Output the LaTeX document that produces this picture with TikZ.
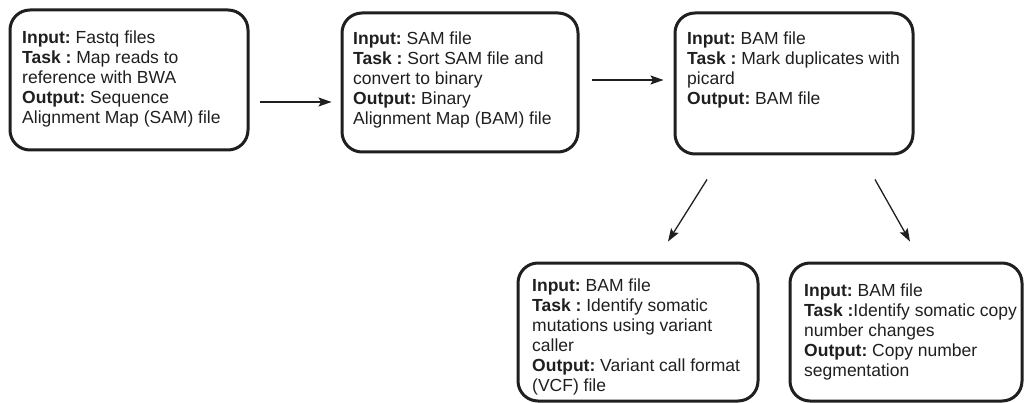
\documentclass[tikz,border=0pt]{standalone}
\usepackage{fontspec}
\setmainfont{Liberation Sans}
\usetikzlibrary{arrows.meta}
\frenchspacing
\begin{document}
\begin{tikzpicture}[x=1pt,y=-1pt,
  stagebox/.style={draw=black!88, line width=3pt, rounded corners=20pt, inner sep=0pt},
  stagetext/.style={anchor=north west, inner sep=0pt, align=left, text=black!88,
    font=\fontsize{17.5}{20}\selectfont\frenchspacing},
  flow/.style={line width=1.3pt, draw=black!88, -{Stealth[length=13pt,width=9pt,inset=2.5pt]}}]
\useasboundingbox (0,0) rectangle (1024,403);
% boxes
\node[stagebox, minimum width=238pt, minimum height=140pt] (b1) at (129,80) {};
\node[stagebox, minimum width=236pt, minimum height=139pt] (b2) at (460,82.5) {};
\node[stagebox, minimum width=238pt, minimum height=141pt] (b3) at (794,83.5) {};
\node[stagebox, minimum width=240pt, minimum height=138pt] (b4) at (638,332) {};
\node[stagebox, minimum width=232pt, minimum height=138pt] (b5) at (906,332) {};
% texts
\node[stagetext] (t1) at (22,31) {\textbf{Input:} Fastq files\\\textbf{Task :} Map reads to\\reference with BWA\\\textbf{Output:} Sequence\\Alignment Map (SAM) file};
\node[stagetext] (t2) at (353,32) {\textbf{Input:} SAM file\\\textbf{Task :} Sort SAM file and\\convert to binary\\\textbf{Output:} Binary\\Alignment Map (BAM) file};
\node[stagetext] (t3) at (687,32) {\textbf{Input:} BAM file\\\textbf{Task :} Mark duplicates with\\picard\\\textbf{Output:} BAM file};
\node[stagetext] (t4) at (532,279) {\textbf{Input:} BAM file\\\textbf{Task :} Identify somatic\\mutations using variant\\caller\\\textbf{Output:} Variant call format\\(VCF) file};
\node[stagetext] (t5) at (804,284) {\textbf{Input:} BAM file\\\textbf{Task :}Identify somatic copy\\number changes\\\textbf{Output:} Copy number\\segmentation};
% arrows
\draw[flow] ([shift={(10,22)}]b1.east) -- ([shift={(-9,19.5)}]b2.west);
\draw[flow] ([shift={(12,-2.5)}]b2.east) -- ([shift={(-10,-3.5)}]b3.west);
\draw[flow] ([shift={(-87,24)}]b3.south) -- ([shift={(30,-20)}]b4.north);
\draw[flow] ([shift={(81,24)}]b3.south) -- ([shift={(4,-20)}]b5.north);
\end{tikzpicture}
\end{document}
